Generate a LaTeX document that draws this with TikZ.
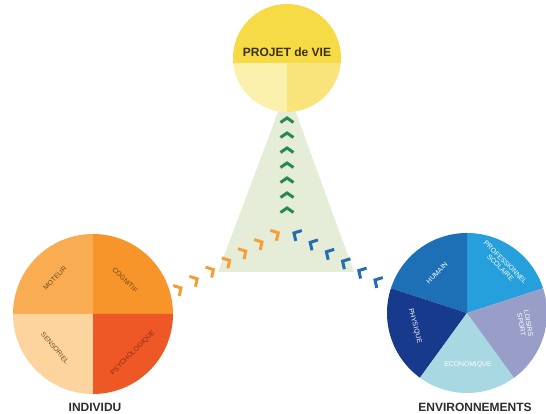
\documentclass[tikz,border=0pt]{standalone}
\usepackage{fontspec}
\setmainfont{Liberation Sans}
\definecolor{ydark}{RGB}{246,218,70}
\definecolor{ylightL}{RGB}{251,240,172}
\definecolor{ylightR}{RGB}{248,228,122}
\definecolor{trifill}{RGB}{229,236,216}
\definecolor{gchev}{RGB}{40,138,78}
\definecolor{ochev}{RGB}{245,158,55}
\definecolor{bchev}{RGB}{38,108,178}
\definecolor{moteur}{RGB}{250,172,82}
\definecolor{cognitif}{RGB}{247,148,42}
\definecolor{sensoriel}{RGB}{253,212,158}
\definecolor{psycho}{RGB}{238,88,38}
\definecolor{humain}{RGB}{30,112,182}
\definecolor{prof}{RGB}{38,160,220}
\definecolor{loisirs}{RGB}{152,158,200}
\definecolor{eco}{RGB}{168,216,226}
\definecolor{physique}{RGB}{24,58,140}
\definecolor{ytext}{RGB}{60,48,10}
\definecolor{otext}{RGB}{110,75,25}
\definecolor{ptext}{RGB}{150,40,15}
\definecolor{title}{RGB}{45,45,45}
\begin{document}
\begin{tikzpicture}[x=1pt,y=1pt,
  chev/.style={line width=3pt, line cap=butt, line join=miter},
  biglab/.style={font=\bfseries\fontsize{12}{12}\selectfont, text=title, inner sep=0pt},
  small/.style={font=\fontsize{6.8}{7.2}\selectfont, inner sep=0pt, align=center},
  olab/.style={small, text=otext},
  wlab/.style={small, text=white}]
\useasboundingbox (0,0) rectangle (546,414);

% triangle
\coordinate (apex) at (287,326);
\coordinate (bl) at (218,142);
\coordinate (br) at (354,142);
\fill[trifill] (apex) -- (br) -- (bl) -- cycle;

% yellow circle
\coordinate (P) at (287,356);
\begin{scope}
  \clip (P) circle (54);
  \fill[ydark] (230,351) rectangle (344,412);
  \fill[ylightL] (230,351) rectangle (287,300);
  \fill[ylightR] (287,351) rectangle (344,300);
\end{scope}
\node[biglab, text=ytext] (projet) at (287,362) {PROJET de VIE};

% left circle
\coordinate (I) at (93,100);
\fill[moteur] (I) -- ++(90:80) arc[start angle=90,end angle=180,radius=80] -- cycle;
\fill[cognitif] (I) -- ++(0:80) arc[start angle=0,end angle=90,radius=80] -- cycle;
\fill[sensoriel] (I) -- ++(180:80) arc[start angle=180,end angle=270,radius=80] -- cycle;
\fill[psycho] (I) -- ++(270:80) arc[start angle=270,end angle=360,radius=80] -- cycle;
\node[olab, rotate=45] (mot) at (55,136) {MOTEUR};
\node[olab, rotate=-45] (cog) at (125,134) {COGNITIF};
\node[olab, rotate=-50] (sen) at (55,66) {SENSORIEL};
\node[small, text=ptext, rotate=45] (psy) at (133,61) {PSYCHOLOGIQUE};
\node[biglab] (individu) at (95,7) {INDIVIDU};

% right circle
\coordinate (E) at (467,101);
\fill[prof] (E) -- ++(18:80) arc[start angle=18,end angle=90,radius=80] -- cycle;
\fill[humain] (E) -- ++(90:80) arc[start angle=90,end angle=162,radius=80] -- cycle;
\fill[physique] (E) -- ++(162:80) arc[start angle=162,end angle=234,radius=80] -- cycle;
\fill[eco] (E) -- ++(234:80) arc[start angle=234,end angle=306,radius=80] -- cycle;
\fill[loisirs] (E) -- ++(306:80) arc[start angle=306,end angle=378,radius=80] -- cycle;
\node[wlab, rotate=45] (hum) at (437,141) {HUMAIN};
\node[wlab, rotate=-45] (pro) at (503,149) {PROFESSIONNEL\\SCOLAIRE};
\node[wlab, rotate=-80] (loi) at (525,90) {LOISIRS\\SPORT};
\node[wlab] (ecol) at (468,49) {ECONOMIQUE};
\node[wlab, rotate=-75] (phy) at (415,88) {PHYSIQUE};
\node[biglab] (env) at (475,7) {ENVIRONNEMENTS};

% chevrons
\foreach \k in {0,...,6}
  \draw[chev, gchev, shift={(287,{206+15*\k})}, rotate=90] (-4.5,6.5) -- (0,0) -- (-4.5,-6.5);
\foreach \k in {0,...,6}
  \draw[chev, ochev, shift={({181+16.2*\k},{126+9.2*\k})}, rotate=30] (-5.5,6) -- (0,0) -- (-5.5,-6);
\foreach \k in {0,...,5}
  \draw[chev, bchev, shift={({375-16.2*\k},{134+9.4*\k})}, rotate=150] (-5.5,6) -- (0,0) -- (-5.5,-6);
\end{tikzpicture}
\end{document}
